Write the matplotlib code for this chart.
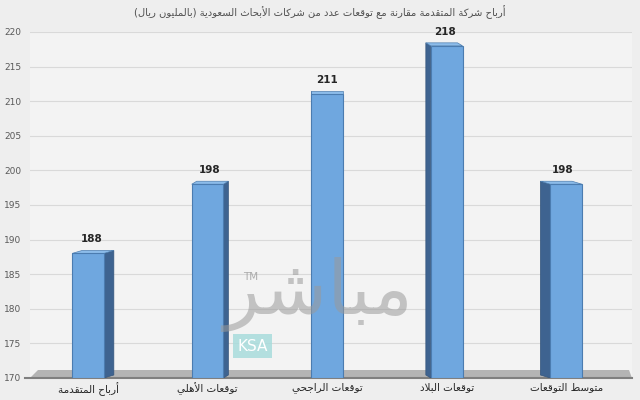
import matplotlib.pyplot as plt
from matplotlib.patches import Polygon

# ---- data ----
categories = ['أرباح المتقدمة', 'توقعات الأهلي', 'توقعات الراجحي', 'توقعات البلاد', 'متوسط التوقعات']
values = [188, 198, 211, 218, 198]
title = 'أرباح شركة المتقدمة مقارنة مع توقعات عدد من شركات الأبحاث السعودية (بالمليون ريال)'
y_ticks = list(range(170, 221, 5))


# ---- tiny arabic shaper (no arabic_reshaper / bidi in the sandbox) ----
FORMS = {
    'ا': (0xFE8D, 2), 'أ': (0xFE83, 2), 'إ': (0xFE87, 2), 'آ': (0xFE81, 2),
    'ب': (0xFE8F, 4), 'ة': (0xFE93, 2), 'ت': (0xFE95, 4), 'ث': (0xFE99, 4),
    'ج': (0xFE9D, 4), 'ح': (0xFEA1, 4), 'خ': (0xFEA5, 4), 'د': (0xFEA9, 2),
    'ذ': (0xFEAB, 2), 'ر': (0xFEAD, 2), 'ز': (0xFEAF, 2), 'س': (0xFEB1, 4),
    'ش': (0xFEB5, 4), 'ص': (0xFEB9, 4), 'ض': (0xFEBD, 4), 'ط': (0xFEC1, 4),
    'ظ': (0xFEC5, 4), 'ع': (0xFEC9, 4), 'غ': (0xFECD, 4), 'ف': (0xFED1, 4),
    'ق': (0xFED5, 4), 'ك': (0xFED9, 4), 'ل': (0xFEDD, 4), 'م': (0xFEE1, 4),
    'ن': (0xFEE5, 4), 'ه': (0xFEE9, 4), 'و': (0xFEED, 2), 'ى': (0xFEEF, 2),
    'ي': (0xFEF1, 4),
}
LAM_ALEF = {'ا': 0xFEFB, 'أ': 0xFEF7, 'إ': 0xFEF9, 'آ': 0xFEF5}
MIRROR = {'(': ')', ')': '('}


def ar(text):
    out = []
    i = 0
    while i < len(text):
        c = text[i]
        if c not in FORMS:
            out.append(c)
            i += 1
            continue
        joins_prev = i > 0 and text[i - 1] in FORMS and FORMS[text[i - 1]][1] == 4
        if c == 'ل' and i + 1 < len(text) and text[i + 1] in LAM_ALEF:
            out.append(chr(LAM_ALEF[text[i + 1]] + (1 if joins_prev else 0)))
            i += 2
            continue
        base, n = FORMS[c]
        joins_next = n == 4 and i + 1 < len(text) and text[i + 1] in FORMS
        if joins_prev and joins_next:
            k = 3
        elif joins_prev:
            k = 1
        elif joins_next:
            k = 2
        else:
            k = 0
        out.append(chr(base + k))
        i += 1
    return ''.join(MIRROR.get(ch, ch) for ch in reversed(out))


plt.rcParams['font.family'] = ['DejaVu Sans']

fig = plt.figure(figsize=(6.4, 4), dpi=100, facecolor='#eeeeee')
ax = fig.add_axes([30 / 640, 22 / 400, 602 / 640, 346 / 400])
ax.set_facecolor('#f3f3f3')
ax.set_xlim(-0.485, 4.55)
ax.set_ylim(170, 220)

for y in y_ticks[1:]:
    ax.axhline(y, color='#d9d9d9', lw=0.8, zorder=1)

# floor
px_x = 1 / 119.5
px_y = 50 / 346
floor = Polygon([(-0.485, 170), (4.55, 170), (4.55 - 3 * px_x, 170 + 8 * px_y),
                 (-0.485 + 8 * px_x, 170 + 8 * px_y)],
                closed=True, facecolor='#b4b4b4', edgecolor='none', zorder=2, clip_on=False)
ax.add_patch(floor)
ax.plot([-0.485 - 5 * px_x, 4.55], [170, 170], color='#7f7f7f', lw=1.5, zorder=2, clip_on=False)

# bars, faked 3d
width = 0.265
x = list(range(len(values)))
for xi, v in zip(x, values):
    dx = (2 - xi) * 5 * px_x
    dy = 3 * px_y
    left, right = xi - width / 2, xi + width / 2
    edge = right if dx > 0 else left
    side = Polygon([(edge, 170), (edge, v), (edge + dx, v + dy), (edge + dx, 170 + dy)],
                   closed=True, facecolor='#3e6390', edgecolor='#34557c', lw=0.5, zorder=3)
    top = Polygon([(left, v), (right, v), (right + dx, v + dy), (left + dx, v + dy)],
                  closed=True, facecolor='#8cbcea', edgecolor='#4f7fb0', lw=0.5, zorder=3)
    ax.add_patch(side)
    ax.add_patch(top)
ax.bar(x, [v - 170 for v in values], bottom=170, width=width, color='#6fa7df',
       edgecolor='#4b7cb0', lw=0.8, zorder=4)

for xi, v in zip(x, values):
    ax.text(xi + (2 - xi) * 2 * px_x, v + 1.3, str(v), ha='center', va='bottom',
            fontsize=7.5, fontweight='bold', color='#262626', zorder=6)

# watermark
ax.text(1.925, 182.0, ar('مباشر'), ha='center', va='center', fontsize=54,
        color='#9a9a9a', alpha=0.55, zorder=5)
ax.text(1.30, 184.6, 'TM', ha='left', va='center', fontsize=7.5, color='#9a9a9a',
        alpha=0.8, zorder=5)
ax.text(1.25, 174.6, 'KSA', ha='left', va='center', fontsize=11, color='white', zorder=5,
        bbox=dict(boxstyle='square,pad=0.3', facecolor='#a8dcdc', edgecolor='none', alpha=0.85))

ax.set_yticks(y_ticks)
ax.set_yticklabels([str(t) for t in y_ticks], fontsize=6.5, color='#595959')
ax.set_xticks(x)
ax.set_xticklabels([ar(c) for c in categories], fontsize=7.5, color='#262626')
ax.tick_params(axis='both', length=0)
ax.tick_params(axis='y', pad=6)
ax.tick_params(axis='x', pad=3)
for s in ax.spines.values():
    s.set_visible(False)

fig.text(0.5, 1 - 12 / 400, ar(title), ha='center', va='center', fontsize=7.2, color='#505050')

fig.savefig('out.png', dpi=100, facecolor=fig.get_facecolor())
